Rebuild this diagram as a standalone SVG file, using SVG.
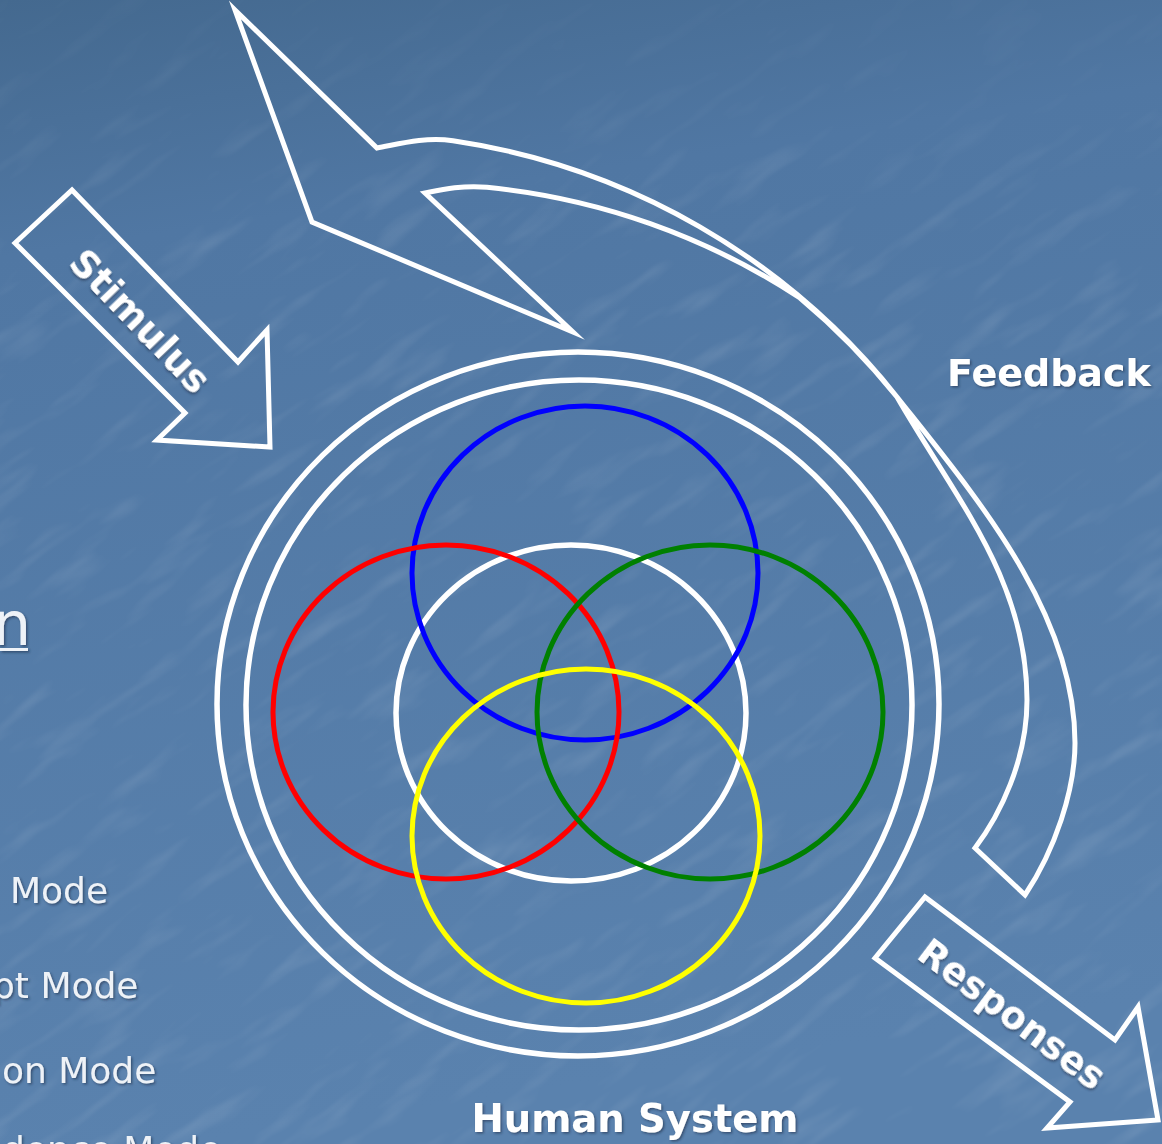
<svg xmlns="http://www.w3.org/2000/svg" width="1162" height="1144" viewBox="0 0 1162 1144">
  <defs>
    <linearGradient id="bg" x1="0" y1="0" x2="0.15" y2="1">
      <stop offset="0" stop-color="#44698f"/>
      <stop offset="0.22" stop-color="#5077a3"/>
      <stop offset="1" stop-color="#5a82ae"/>
    </linearGradient>
    <linearGradient id="fade" x1="0" y1="0" x2="0" y2="1">
      <stop offset="0" stop-color="#ffffff" stop-opacity="0.2"/>
      <stop offset="0.25" stop-color="#ffffff" stop-opacity="1"/>
      <stop offset="1" stop-color="#ffffff" stop-opacity="1"/>
    </linearGradient>
    <mask id="texmask">
      <rect x="0" y="0" width="1162" height="1144" fill="url(#fade)"/>
    </mask>
    <filter id="tex" x="0" y="0" width="100%" height="100%">
      <feTurbulence type="fractalNoise" baseFrequency="0.01 0.05" numOctaves="3" seed="7" result="n"/>
      <feColorMatrix in="n" type="matrix" values="0 0 0 0 1  0 0 0 0 1  0 0 0 0 1  0 0 0 1.3 -0.7"/>
      <feGaussianBlur stdDeviation="1.2"/>
    </filter>
    <filter id="sh" x="-10%" y="-10%" width="130%" height="130%">
      <feDropShadow dx="1.5" dy="1.5" stdDeviation="0.8" flood-color="#1c2f48" flood-opacity="0.6"/>
    </filter>
    <style>
      .outline { fill: none; stroke: #ffffff; stroke-width: 5; stroke-linejoin: miter; stroke-miterlimit: 10; }
      .ring { fill: none; stroke: #ffffff; stroke-width: 5.5; }
      .mode { fill: none; stroke-width: 5; }
      .lbl { font-family: "DejaVu Sans", Verdana, sans-serif; font-weight: bold; fill: #ffffff; }
      .body { font-family: "DejaVu Sans", Verdana, sans-serif; fill: #eef2f7; font-size: 36px; }
    </style>
  </defs>

  <rect x="0" y="0" width="1162" height="1144" fill="url(#bg)"/>
  <g opacity="0.2" mask="url(#texmask)">
    <rect x="-300" y="-300" width="1800" height="1800" filter="url(#tex)" transform="rotate(-35 581 572)"/>
  </g>

  <!-- clipped left-hand text -->
  <g id="left-text" filter="url(#sh)">
    <text class="body" x="-7" y="645" style="font-size:60px">n</text>
    <rect x="0" y="648" width="28" height="3" fill="#eef2f7"/>
    <text class="body" x="10" y="903">Mode</text>
    <text class="body" x="-8" y="998">pt Mode</text>
    <text class="body" x="2" y="1083">on Mode</text>
    <text class="body" x="2" y="1162">dence Mode</text>
  </g>

  <!-- human system rings -->
  <g id="human-system">
    <ellipse class="ring" cx="578" cy="704" rx="361" ry="352"/>
    <ellipse class="ring" cx="579" cy="705" rx="333" ry="325"/>
    <ellipse class="ring" cx="571" cy="713" rx="175" ry="168"/>
    <ellipse class="mode" cx="585" cy="573" rx="173" ry="167" stroke="#0000ff"/>
    <ellipse class="mode" cx="446" cy="712" rx="173" ry="167" stroke="#ff0000"/>
    <ellipse class="mode" cx="710" cy="712" rx="173" ry="167" stroke="#008000"/>
    <ellipse class="mode" cx="586" cy="836" rx="174" ry="167" stroke="#ffff00"/>
    <text class="lbl" x="635" y="1132" font-size="38.5" text-anchor="middle" filter="url(#sh)">Human System</text>
  </g>

  <g id="connectors">
    <!-- Stimulus arrow -->
    <g id="stimulus">
      <path class="outline" d="M15,243 L72,190 L238,362 L267,330 L270,447 L157,440 L185,413 Z"/>
      <text class="lbl" font-size="37" text-anchor="middle" transform="translate(140,321) rotate(46)" y="13" filter="url(#sh)">Stimulus</text>
    </g>

    <!-- Responses arrow -->
    <g id="responses">
      <path class="outline" d="M875,958 L925,897 L1115,1040 L1138,1007 L1158,1120 L1047,1128 L1070,1102 Z"/>
      <text class="lbl" font-size="37" text-anchor="middle" transform="translate(1012,1014) rotate(37)" y="13" filter="url(#sh)">Responses</text>
    </g>

    <!-- Feedback curved arrow -->
    <g id="feedback">
      <path class="outline" d="M235,10 L377,148
        C395,145 423.3,136.3 453,140.7
        A697,697 0 0 1 897,397
        C977.7,498.9 1075,613 1075,743
        C1075,790 1055,850 1025,895
        L975,848
        C1000,815 1027,760 1027,700
        C1027,580 957,501 897,397
        A697,697 0 0 0 800,298
        A692,692 0 0 0 487,187.3
        C462,184.9 440,190 425,193
        L573,332 L312,222 Z"/>
      <text class="lbl" x="947" y="386" font-size="38" filter="url(#sh)">Feedback</text>
    </g>
  </g>
</svg>
